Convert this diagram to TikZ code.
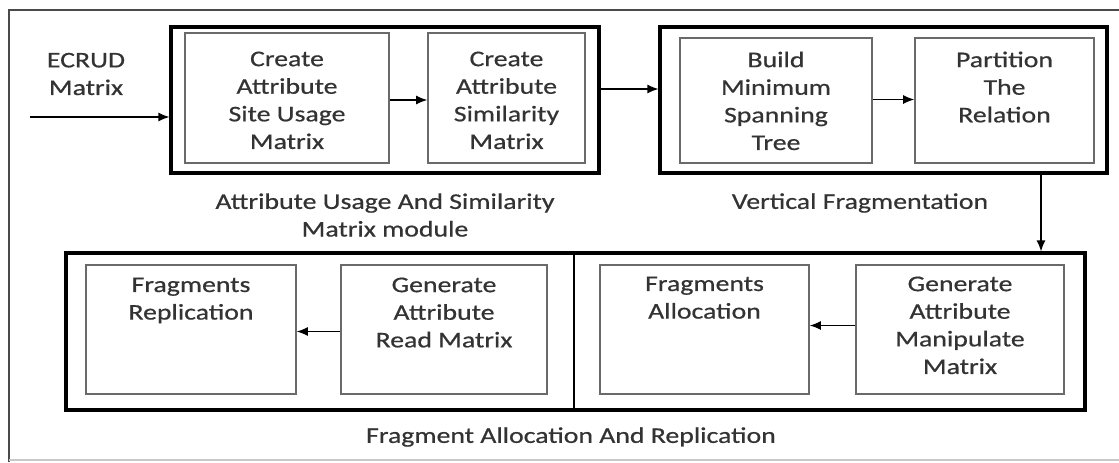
\documentclass[tikz,border=0pt]{standalone}
\usepackage{fontspec}
\setmainfont{Carlito}[FakeStretch=1.24,FakeBold=0.6]
\usepackage{xcolor}
\usetikzlibrary{arrows.meta,positioning,fit}
\definecolor{fragInk}{HTML}{333333}
\definecolor{fragLine}{HTML}{6A6A6A}
\definecolor{fragFrame}{HTML}{4A4A4A}
\definecolor{fragEdge}{HTML}{C8C8C8}
\tikzset{
    >={Latex[length=5.5pt,width=4.5pt]},
    every picture/.style={font=\fontsize{11.2}{13.8}\selectfont},
    stepbox/.style={draw=fragLine, line width=0.8pt, inner sep=0pt},
    module/.style={draw=black, line width=1.6pt, inner sep=0pt},
    boxtext/.style={anchor=north, align=center, inner sep=0pt, text=fragInk},
    caption/.style={align=center, inner sep=0pt, text=fragInk},
    arrow/.style={->, line width=0.6pt, draw=black}
}
\begin{document}
\begin{tikzpicture}[x=0.5pt,y=-0.5pt]
\useasboundingbox (0,0) rectangle (1119,462);
% outer frame (right side runs off the page)
\draw[fragFrame, line width=1pt] (9,462) -- (9,10) -- (1119,10);
\draw[fragEdge, line width=0.8pt] (9,460) -- (1119,460);

% attribute usage and similarity module
\node[module, fit={(171,27) (599,173)}] (usage) {};
\node[stepbox, fit={(185,33) (389,163)}] (siteuse) {};
\node[stepbox, fit={(428,33) (585,163)}] (similar) {};
\node[boxtext] (siteuse-t) at ([yshift=-9.5pt]siteuse.north) {Create\\Attribute\\Site Usage\\Matrix};
\node[boxtext] (similar-t) at ([yshift=-9.5pt]similar.north) {Create\\Attribute\\Similarity\\Matrix};
\node[caption] (usage-cap) at (385,215) {Attribute Usage And Similarity\\Matrix module};

% vertical fragmentation
\node[module, fit={(660,27) (1107,173)}] (vfrag) {};
\node[stepbox, fit={(680,38) (872,163)}] (mst) {};
\node[stepbox, fit={(915,38) (1094,163)}] (partition) {};
\node[boxtext] (mst-t) at ([yshift=-7pt]mst.north) {Build\\Minimum\\Spanning\\Tree};
\node[boxtext] (partition-t) at ([yshift=-7pt]partition.north) {Partition\\The\\Relation};
\node[caption] (vfrag-cap) at (860,203) {Vertical Fragmentation};

% fragment allocation and replication
\node[module, fit={(66,253) (1085,410)}] (alloc) {};
\node[stepbox, fit={(86,265) (296,394)}] (repl) {};
\node[stepbox, fit={(341,265) (547,394)}] (readmat) {};
\node[stepbox, fit={(600,265) (809,394)}] (place) {};
\node[stepbox, fit={(856,265) (1064,394)}] (manip) {};
\node[boxtext] (repl-t) at ([yshift=-6.5pt]repl.north) {Fragments\\Replication};
\node[boxtext] (readmat-t) at ([yshift=-6.5pt]readmat.north) {Generate\\Attribute\\Read Matrix};
\node[boxtext] (place-t) at ([yshift=-6pt]place.north) {Fragments\\Allocation};
\node[boxtext] (manip-t) at ([yshift=-6pt]manip.north) {Generate\\Attribute\\Manipulate\\Matrix};
\node[caption] (alloc-cap) at (571,437) {Fragment Allocation And Replication};
\coordinate (split) at (574,0);
\draw[black, line width=0.6pt] (alloc.north -| split) -- (alloc.south -| split);

% input
\node[caption] (ecrud) at (86,74) {ECRUD\\Matrix};
\coordinate (ecrud-in) at (30,117);

% connectors
\draw[arrow] (ecrud-in) -- (usage.west |- ecrud-in);
\draw[arrow] ([yshift=-1pt]siteuse.east) -- ([yshift=-1pt]similar.east -| similar.west);
\draw[arrow] ([yshift=5.5pt]usage.east) -- ([yshift=5.5pt]vfrag.west);
\draw[arrow] ([yshift=0.5pt]mst.east) -- ([yshift=0.5pt]partition.west);
\coordinate (drop) at (1041,0);
\draw[arrow] (vfrag.south -| drop) -- (alloc.north -| drop);
\draw[arrow] ([yshift=-1pt]readmat.west) -- ([yshift=-1pt]repl.east);
\draw[arrow] ([yshift=2pt]manip.west) -- ([yshift=2pt]place.east);
\end{tikzpicture}
\end{document}
